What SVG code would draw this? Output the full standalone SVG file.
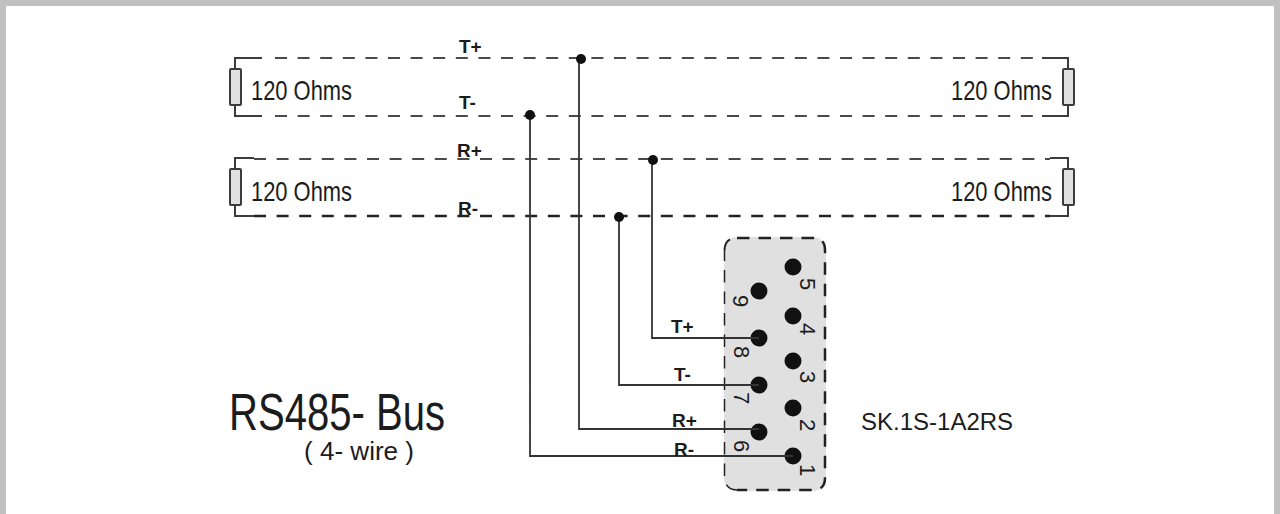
<svg xmlns="http://www.w3.org/2000/svg" width="1280" height="514" viewBox="0 0 1280 514">
<style>
text{font-family:"Liberation Sans",Arial,sans-serif;fill:#1c1c1c}
.wire{fill:none;stroke:#333;stroke-width:1.8}
.stub{fill:none;stroke:#3c3c3c;stroke-width:2}
.bus{fill:none;stroke:#4a4a4a;stroke-width:2.200;stroke-dasharray:12 10.6}
.res{fill:#e0e0e0;stroke:#3c3c3c;stroke-width:2}
.dot{fill:#111}
.ohm{font-size:28px}
.lab{font-size:19px;font-weight:bold}
.pin{font-size:22px;fill:#333}
.edge{fill:none;stroke:#222;stroke-dasharray:12.500 9}
</style>
<path d="M0 514V0H1280V514H1274V6H6V514Z" fill="#c0c0c0"/>
<g id="terminal-T-left">
<path class="stub" d="M262 58H235V69M235 105V116H262"/><rect class="res" x="230" y="69" width="11" height="36" rx="1"/>
<text class="ohm" x="251" y="100" textLength="101" lengthAdjust="spacingAndGlyphs">120 Ohms</text></g>
<g id="terminal-R-left">
<path class="stub" d="M254 158H235V169M235 205V216H254"/><rect class="res" x="230" y="169" width="11" height="36" rx="1"/>
<text class="ohm" x="251" y="201" textLength="101" lengthAdjust="spacingAndGlyphs">120 Ohms</text></g>
<g id="terminal-T-right">
<path class="stub" d="M1042 58H1068V69M1068 105V116H1042"/><rect class="res" x="1063" y="69" width="11" height="36" rx="1"/>
<text class="ohm" x="951" y="100" textLength="101" lengthAdjust="spacingAndGlyphs">120 Ohms</text></g>
<g id="terminal-R-right">
<path class="stub" d="M1050 158H1068V169M1068 205V216H1050"/><rect class="res" x="1063" y="169" width="11" height="36" rx="1"/>
<text class="ohm" x="951" y="201" textLength="101" lengthAdjust="spacingAndGlyphs">120 Ohms</text></g>
<g id="connector">
<rect x="724" y="237" width="102" height="254" rx="13" fill="#e0e0e0"/>
<path class="edge" stroke-width="1.500" d="M737 490Q725 490 724.500 477V250"/>
<path class="edge" stroke-width="2.500" d="M737 238H813Q825 238 825 250V478Q825 490 813 490H737"/>
<path class="edge" stroke-width="2" d="M724.500 250Q725 238 737 238"/>
<g class="dot">
<circle cx="793" cy="267" r="8.500"/><circle cx="793" cy="316" r="8.500"/><circle cx="793" cy="361" r="8.500"/><circle cx="793" cy="408" r="8.500"/><circle cx="793" cy="456" r="8.500"/>
<circle cx="759" cy="291" r="8.500"/><circle cx="759" cy="338" r="8.500"/><circle cx="759" cy="385" r="8.500"/><circle cx="759" cy="432" r="8.500"/>
</g>
<g class="pin">
<text transform="translate(800 278) rotate(90)">5</text><text transform="translate(800 323) rotate(90)">4</text><text transform="translate(800 371) rotate(90)">3</text><text transform="translate(800 419) rotate(90)">2</text><text transform="translate(800 464) rotate(90)">1</text>
<text transform="translate(733 295) rotate(90)">9</text><text transform="translate(734 346) rotate(90)">8</text><text transform="translate(734 392) rotate(90)">7</text><text transform="translate(734 440) rotate(90)">6</text>
</g>
</g>
<g id="connectors">
<path class="bus" d="M275 58H1042M275 116H1042M254 159H1050"/>
<path class="bus" style="stroke:#222;stroke-width:2.600" d="M254 216H1050"/>
<path class="wire" d="M579 59V429H759M530 115V456H793M652 160V338H759M619 217V385H759"/>
<g class="dot"><circle cx="581" cy="59" r="5"/><circle cx="530" cy="115" r="5"/><circle cx="653" cy="160" r="5"/><circle cx="619" cy="217" r="5"/></g>
</g>
<g id="labels">
<text class="lab" x="459" y="53">T+</text><text class="lab" x="459" y="109">T-</text><text class="lab" x="457" y="157">R+</text><text class="lab" x="458" y="215">R-</text>
<text class="lab" x="671" y="333">T+</text><text class="lab" x="674" y="381">T-</text><text class="lab" x="672" y="427">R+</text><text class="lab" x="674" y="456">R-</text>
<text x="861" y="430" font-size="24">SK.1S-1A2RS</text>
<text x="229" y="430" font-size="52" textLength="216" lengthAdjust="spacingAndGlyphs">RS485- Bus</text>
<text x="304" y="460" font-size="26" textLength="110" lengthAdjust="spacingAndGlyphs">( 4- wire )</text>
</g>
</svg>
